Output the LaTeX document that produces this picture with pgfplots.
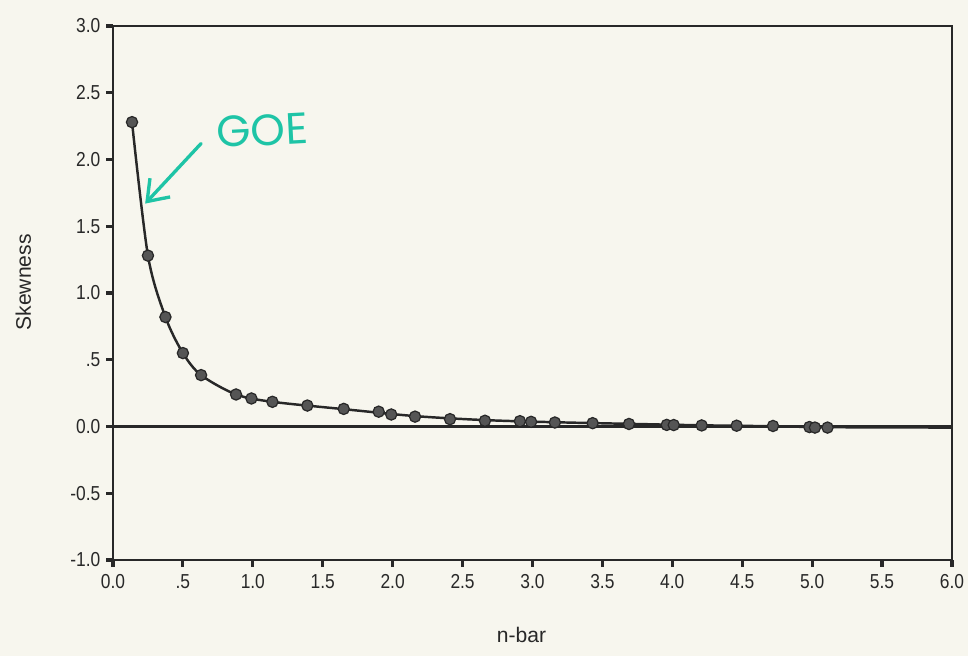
\documentclass[border=0pt]{standalone}
\usepackage{pgfplots}
\pgfplotsset{compat=1.18}
\usepackage{fontspec}
\setmainfont{Liberation Sans}
\newfontfamily\tickfont[FakeStretch=0.86]{Liberation Sans}
\newfontfamily\handfont{Poppins}
\usetikzlibrary{arrows.meta}

\definecolor{paper}{RGB}{247,246,238}
\definecolor{ink}{RGB}{40,40,40}
\definecolor{dotfill}{RGB}{85,85,85}
\definecolor{marker}{RGB}{30,196,166}

% skewness against n-bar
\pgfplotstableread{
x y
0.136 2.28
0.25 1.28
0.375 0.82
0.50 0.55
0.63 0.385
0.88 0.24
0.99 0.21
1.14 0.185
1.39 0.157
1.65 0.132
1.90 0.111
1.99 0.090
2.16 0.074
2.41 0.055
2.66 0.043
2.91 0.040
2.99 0.035
3.16 0.030
3.43 0.025
3.69 0.019
3.96 0.012
4.01 0.011
4.21 0.008
4.46 0.006
4.72 0.004
4.98 -0.004
5.02 -0.008
5.11 -0.008
}\skewdata

\begin{document}
\begin{tikzpicture}
\fill[paper] (0,0) rectangle (19.36,13.12);
\path[use as bounding box] (0,0) rectangle (19.36,13.12);
\begin{axis}[
  at={(2.26cm,1.92cm)}, anchor=south west,
  width=16.78cm, height=10.68cm, scale only axis,
  xmin=0, xmax=6, ymin=-1, ymax=3,
  axis line style={ink, line width=1.3pt},
  xtick={0,0.5,...,6},
  xticklabels={0.0,.5,1.0,1.5,2.0,2.5,3.0,3.5,4.0,4.5,5.0,5.5,6.0},
  ytick={-1,-0.5,...,3},
  yticklabels={-1.0,-0.5,0.0,.5,1.0,1.5,2.0,2.5,3.0},
  xtick pos=bottom, ytick pos=left,
  tick align=outside,
  major tick length=0.13cm,
  tick style={ink, line width=1.8pt},
  ticklabel style={font=\tickfont\fontsize{11.5}{13}\selectfont, text=ink},
  xticklabel style={yshift=-1pt},
  xlabel={n-bar}, ylabel={Skewness},
  label style={font=\fontsize{12}{14}\selectfont, text=ink},
  xlabel style={at={(axis description cs:0.487,-0.14)}, anchor=center},
  ylabel style={at={(axis description cs:-0.107,0.52)}, anchor=center},
  clip=false,
]
% reference line at zero
\draw[ink, line width=1.5pt] (axis cs:0,0) -- (axis cs:6,0);
% fitted curve
\addplot[ink, line width=1.4pt, smooth, tension=0.5, no marks]
  coordinates {(0.136,2.28) (0.25,1.28) (0.375,0.82) (0.50,0.55) (0.63,0.385)
  (0.88,0.24) (1.14,0.185) (1.65,0.13) (2.16,0.078) (2.66,0.048) (3.16,0.032)
  (3.69,0.020) (4.21,0.009) (4.72,0.002) (5.11,-0.005) (6.0,-0.008)};
% observed values
\addplot[only marks, mark=*, mark size=3.2pt,
  mark options={fill=dotfill, draw=ink, line width=0.7pt}]
  table[x=x, y=y] {\skewdata};
% handwritten note
\draw[marker, line width=1.9pt, line cap=round,
  -{Straight Barb[length=0.38cm, width=0.55cm, line width=1.9pt]}]
  (axis cs:0.63,2.12) -- (axis cs:0.23,1.67);
\node[marker, rotate=3, inner sep=0pt, font=\handfont\fontsize{25}{28}\selectfont]
  at (axis cs:1.07,2.22) {GOE};
\end{axis}
\end{tikzpicture}
\end{document}
